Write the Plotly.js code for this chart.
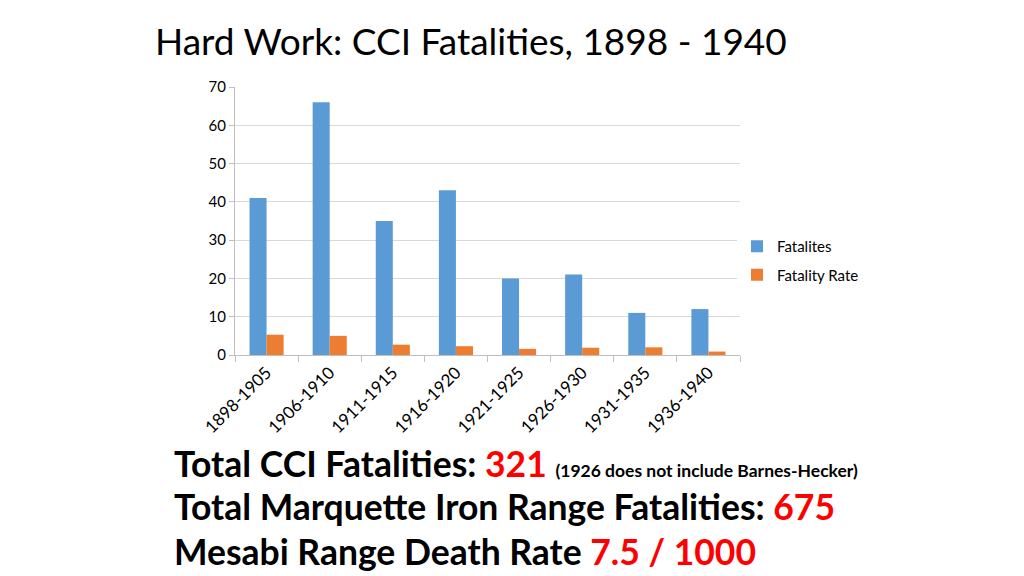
<!DOCTYPE html>
<html>
<head>
<meta charset="utf-8">
<script src="https://cdn.plot.ly/plotly-3.0.1.min.js"></script>
<style>body{margin:0;background:#fff}#myDiv{width:1024px;height:576px}</style>
</head>
<body>
<div id="myDiv"></div>
<script>
var periods = ['1898-1905', '1906-1910', '1911-1915', '1916-1920', '1921-1925', '1926-1930', '1931-1935', '1936-1940'];
var fatalities = [41, 66, 35, 43, 20, 21, 11, 12];
var fatalityRate = [5.3, 5.0, 2.7, 2.3, 1.6, 1.9, 2.0, 0.9];

var font = 'Lato, "Open Sans", sans-serif';

// plot box in pixels, used to place the notes below the chart
var L = 235, R = 740, T = 87, B = 355;
function px(x) { return (x - L) / (R - L); }
function py(y) { return (B - y) / (B - T); }

var trace1 = {
  x: periods,
  y: fatalities,
  name: 'Fatalites',
  legendgroup: 'a',
  type: 'bar',
  marker: {color: '#5b9bd5'}
};

var trace2 = {
  x: periods,
  y: fatalityRate,
  name: 'Fatality Rate',
  legendgroup: 'b',
  type: 'bar',
  marker: {color: '#ed7d31'}
};

var notes = [
  {text: 'Total CCI Fatalities: <span style="color:#ff0000">321</span> <span style="font-size:17.5px">(1926 does not include Barnes-Hecker)</span>', y: 463},
  {text: 'Total Marquette Iron Range Fatalities: <span style="color:#ff0000">675</span>', y: 507},
  {text: 'Mesabi Range Death Rate <span style="color:#ff0000">7.5 / 1000</span>', y: 551}
];

var layout = {
  width: 1024,
  height: 576,
  margin: {l: L, r: 1024 - R, t: T, b: 576 - B},
  paper_bgcolor: '#fff',
  plot_bgcolor: '#fff',
  barmode: 'group',
  bargap: 0.46,
  bargroupgap: 0,
  font: {family: font, color: '#000'},
  title: {
    text: 'Hard Work: CCI Fatalities, 1898 - 1940',
    font: {family: font, size: 37, color: '#000'},
    x: 155 / 1024, xanchor: 'left',
    y: 1 - 42 / 576, yanchor: 'middle'
  },
  xaxis: {
    tickangle: -45,
    tickson: 'boundaries',
    ticks: 'outside',
    ticklen: 6,
    tickcolor: '#bfbfbf',
    showline: true,
    linecolor: '#bfbfbf',
    tickfont: {size: 17, color: '#000'}
  },
  yaxis: {
    range: [0, 70],
    dtick: 10,
    showgrid: true,
    gridcolor: '#d9d9d9',
    showline: true,
    linecolor: '#bfbfbf',
    ticks: 'outside',
    ticklen: 5,
    tickcolor: '#bfbfbf',
    zeroline: false,
    tickfont: {size: 15, color: '#000'}
  },
  legend: {
    x: px(737), xanchor: 'left',
    y: py(230), yanchor: 'top',
    font: {size: 15, color: '#000'},
    itemwidth: 30,
    tracegroupgap: 6
  },
  showlegend: true,
  annotations: notes.map(function (n) {
    return {
      xref: 'paper', yref: 'paper',
      x: px(172), xanchor: 'left',
      y: py(n.y), yanchor: 'middle',
      showarrow: false,
      text: '<b>' + n.text + '</b>',
      font: {family: font, size: 35.5, color: '#000'}
    };
  })
};

Plotly.newPlot('myDiv', [trace1, trace2], layout, {displayModeBar: false});
</script>
</body>
</html>
